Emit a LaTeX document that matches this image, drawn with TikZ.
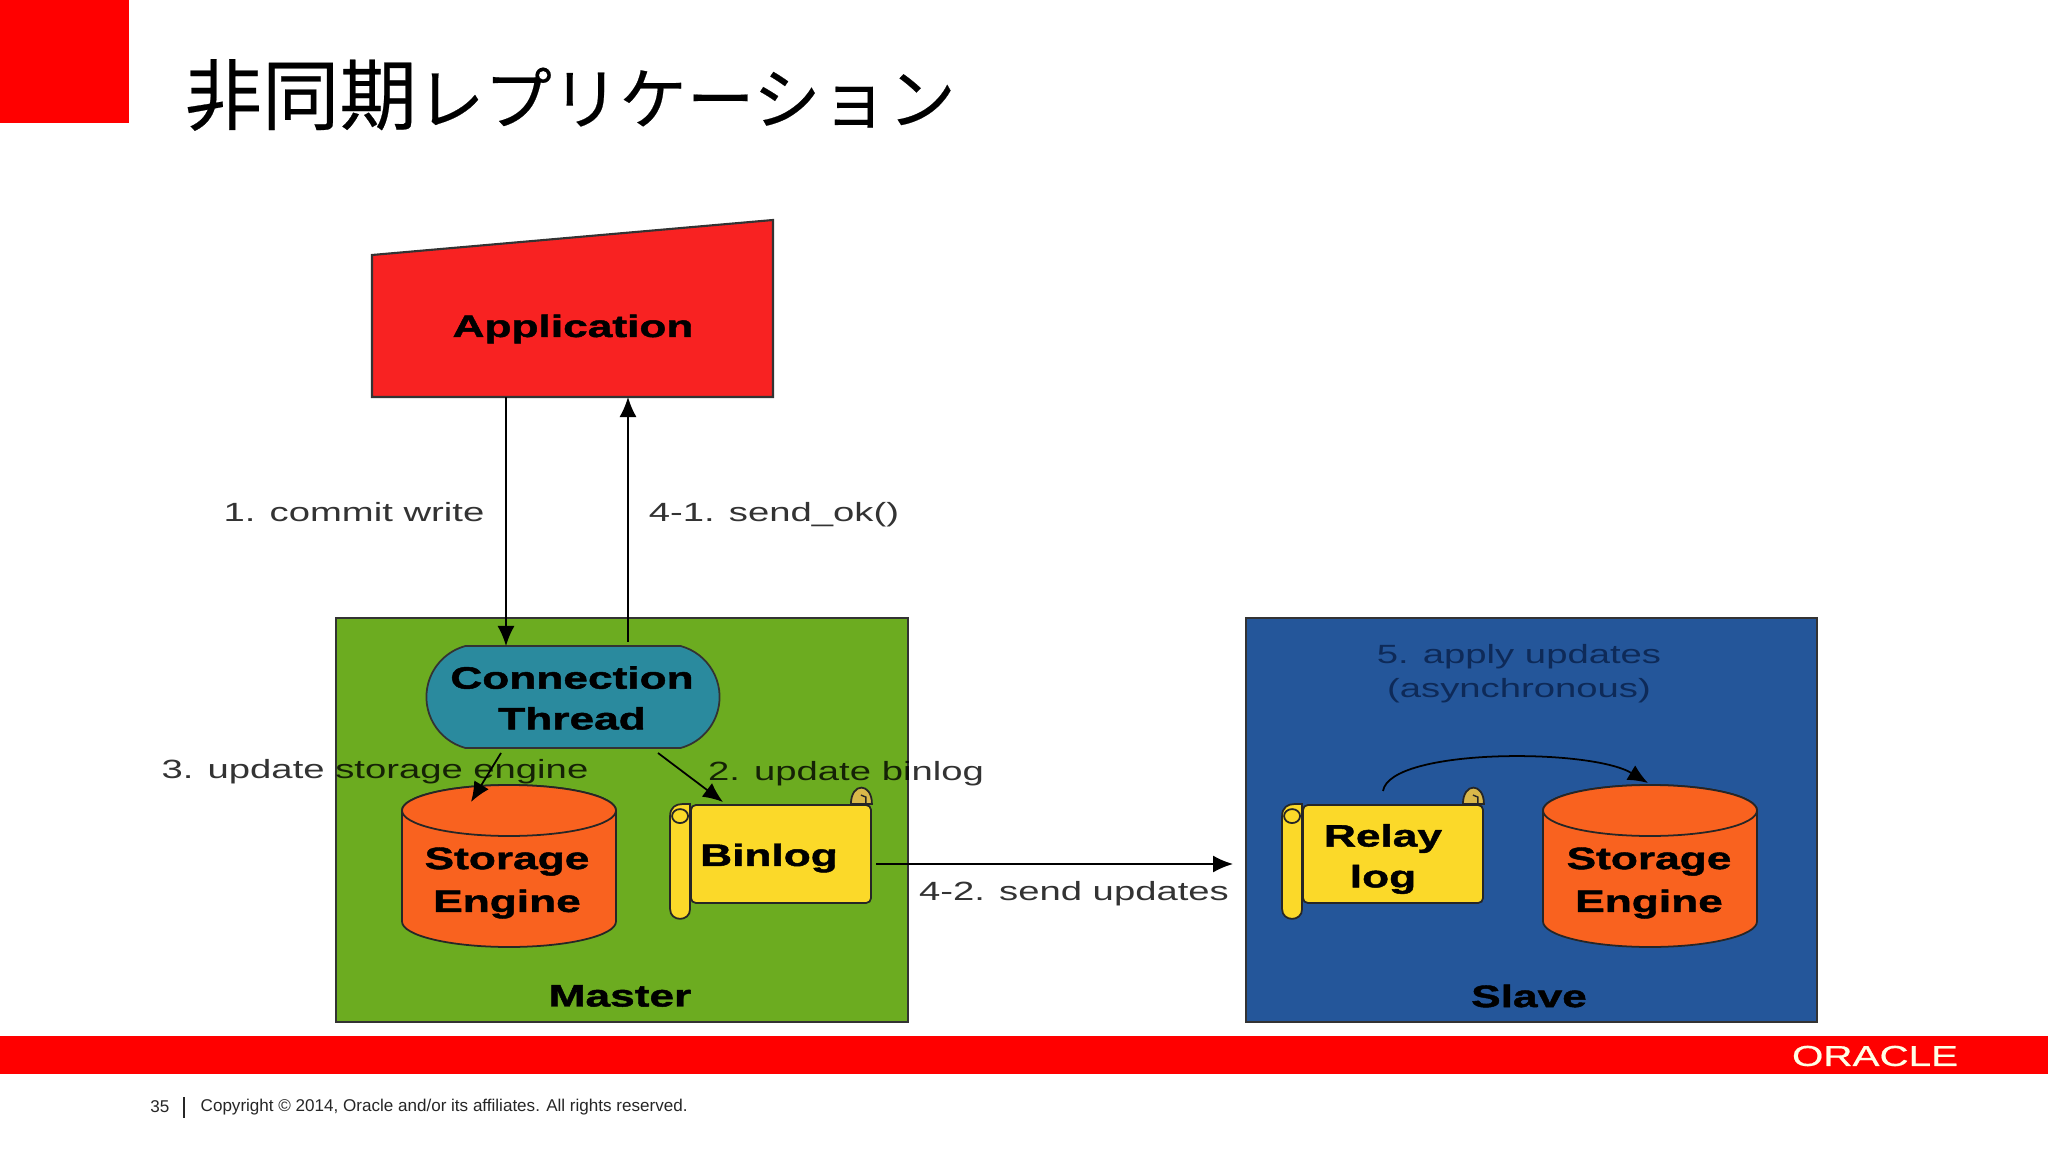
\documentclass[tikz,border=0pt]{standalone}
\usepackage{fontspec}
\setmainfont{Liberation Sans}
\newfontfamily\cjk[FakeBold=0.3]{Noto Sans CJK JP}
\newfontfamily\labelfont[FakeStretch=1.45]{Liberation Sans}
\newfontfamily\boldfont[FakeStretch=1.43,FakeBold=1.5]{Liberation Sans Bold}
\newfontfamily\logofont[FakeStretch=1.4,FakeBold=0.6]{Liberation Sans}
\usetikzlibrary{shapes.misc, arrows.meta}
\definecolor{oraclered}{HTML}{FF0000}
\definecolor{appred}{HTML}{F82222}
\definecolor{masterfill}{HTML}{6CAC20}
\definecolor{slavefill}{HTML}{24569A}
\definecolor{threadfill}{HTML}{2A8A9E}
\definecolor{dbfill}{HTML}{F9621F}
\definecolor{scrollfill}{HTML}{FBD929}
\definecolor{curlfill}{HTML}{D9B84A}
\definecolor{slavetext}{HTML}{0E2A58}
\tikzset{
    boxtext/.style={font=\boldfont\fontsize{8.8pt}{11.6pt}\selectfont, align=center, text=black, inner sep=0pt},
    steplabel/.style={font=\labelfont\fontsize{7.5pt}{9.6pt}\selectfont, align=center, text=black, text opacity=0.8, inner sep=0pt},
    hostbox/.style={draw=black!80, line width=0.6pt},
    flow/.style={-{Latex[length=0.2cm, width=0.17cm]}, line width=0.5pt, draw=black},
    dbnode/.style={rectangle, minimum width=2.14cm, minimum height=1.62cm, inner sep=0pt},
    dbline/.style={draw=black!85, line width=0.5pt, fill=dbfill},
    threadnode/.style={rounded rectangle, rounded rectangle arc length=150, draw=black!80, line width=0.5pt, fill=threadfill,
        minimum width=2.93cm, minimum height=1.02cm, inner sep=0pt},
    scrollnode/.style={rectangle, rounded corners=0.05cm, draw=black!85, line width=0.5pt, fill=scrollfill,
        minimum width=1.8cm, minimum height=0.98cm, inner sep=0pt},
    scrollline/.style={draw=black!85, line width=0.5pt, fill=scrollfill}
}
% the drum of a storage engine, placed on its node
\newcommand{\dbdrum}[1]{
    \begin{scope}[shift={(#1.center)}]
        \draw[dbline] (-107,-55.5) -- (-107,55.5) arc (180:0:107 and 25.5) -- (107,-55.5) arc (0:-180:107 and 25.5) -- cycle;
        \draw[dbline] (0,-55.5) ellipse (107 and 25.5);
    \end{scope}
}
% the rolled ends of a scroll, placed on its body
\newcommand{\scrollroll}[1]{
    \begin{scope}[shift={(#1.north west)}]
        \draw[scrollline] (-20,12) .. controls (-20,3) and (-14,0) .. (-8,0) -- (0,0) -- (0,105)
            .. controls (0,118) and (-20,118) .. (-20,105) -- cycle;
        \draw[scrollline] (-10,12) ellipse (8 and 7);
    \end{scope}
    \begin{scope}[shift={(#1.north east)}]
        \draw[scrollline, fill=curlfill] (-21,0) .. controls (-21,-22) and (0,-22) .. (0,0) -- cycle;
        \draw[line width=0.4pt, black!85] (-11,-9) -- (-6,-7) -- (-6,0);
    \end{scope}
}
\begin{document}
\begin{tikzpicture}[x=0.01cm, y=-0.01cm]
    \useasboundingbox (0,0) rectangle (2048,1152);

    % slide furniture
    \fill[oraclered] (0,0) rectangle (129,123);
    \fill[oraclered] (0,1036) rectangle (2048,1074);
    \node[anchor=west, inner sep=0pt] (title) at (184,95) {\cjk\fontsize{22pt}{24pt}\selectfont 非同期\fontsize{19.2pt}{24pt}\selectfont レプリケーション};
    \node[inner sep=0pt, text=white!90!yellow, font=\logofont\fontsize{8.2pt}{10pt}\selectfont] (logo) at (1875,1056) {ORACLE};
    \node[anchor=east, inner sep=0pt, font=\fontsize{4.85pt}{6pt}\selectfont, text=black!85] (pagenum) at (170,1107) {35};
    \node[anchor=west, inner sep=0pt, font=\fontsize{4.85pt}{6pt}\selectfont, text=black!85] (copyright) at (200,1107) {Copyright © 2014, Oracle and/or its affiliates. All rights reserved.};
    \draw[line width=0.4pt, black!85] (184,1097) -- (184,1118);

    % application
    \draw[hostbox, fill=appred] (372,255) -- (773,220) -- (773,397) -- (372,397) -- cycle;
    \node[boxtext] (application) at (573,329) {Application};

    % master
    \draw[hostbox, fill=masterfill] (336,618) rectangle (908,1022);
    \node[boxtext] (master) at (620,996) {Master};
    \node[threadnode] (thread) at (573,697) {};
    \node[boxtext] (threadtext) at (572,698) {Connection\\Thread};
    \node[dbnode] (mdb) at (509,866) {};
    \dbdrum{mdb}
    \node[boxtext] (mdbtext) at (507,883) {Storage\\[0.6pt]Engine};
    \node[scrollnode] (binlog) at (781,854) {};
    \node[boxtext] (binlogtext) at (769,858) {Binlog};
    \scrollroll{binlog}

    % slave
    \draw[hostbox, fill=slavefill] (1246,618) rectangle (1817,1022);
    \node[boxtext] (slave) at (1529,996) {Slave};
    \node[dbnode] (sdb) at (1650,866) {};
    \dbdrum{sdb}
    \node[boxtext] (sdbtext) at (1649,883) {Storage\\[0.6pt]Engine};
    \node[scrollnode] (relay) at (1393,854) {};
    \node[boxtext] (relaytext) at (1383,859) {Relay\\log};
    \scrollroll{relay}

    % connector ends
    \coordinate (appl) at (506,397);
    \coordinate (appr) at (628,397);
    \coordinate (threadl) at (506,646);
    \coordinate (threadr) at (628,642);
    \coordinate (threadsw) at (501,753);
    \coordinate (threadse) at (658,753);
    \coordinate (mdbin) at (471,802);
    \coordinate (binin) at (723,802);
    \coordinate (sendout) at (876,864);
    \coordinate (sendin) at (1233,864);
    \coordinate (relayout) at (1383,791);
    \coordinate (sdbin) at (1648,783);

    \draw[flow] (appl) -- (threadl);
    \draw[flow] (threadr) -- (appr);
    \draw[flow] (threadsw) -- (mdbin);
    \draw[flow] (threadse) -- (binin);
    \draw[flow] (sendout) -- (sendin);
    \draw[flow] (relayout) .. controls (1390,748) and (1590,748) .. (sdbin);

    % step labels
    \node[steplabel] (commit) at (354,512) {1. commit write};
    \node[steplabel] (sendok) at (774,515) {4-1. send\_ok()};
    \node[steplabel] (updatese) at (375,772) {3. update storage engine};
    \node[steplabel] (updatebin) at (846,774) {2. update binlog};
    \node[steplabel] (sendupd) at (1074,894) {4-2. send updates};
    \node[steplabel, text=slavetext, text opacity=1] (apply) at (1519,674) {5. apply updates\\(asynchronous)};
\end{tikzpicture}
\end{document}
